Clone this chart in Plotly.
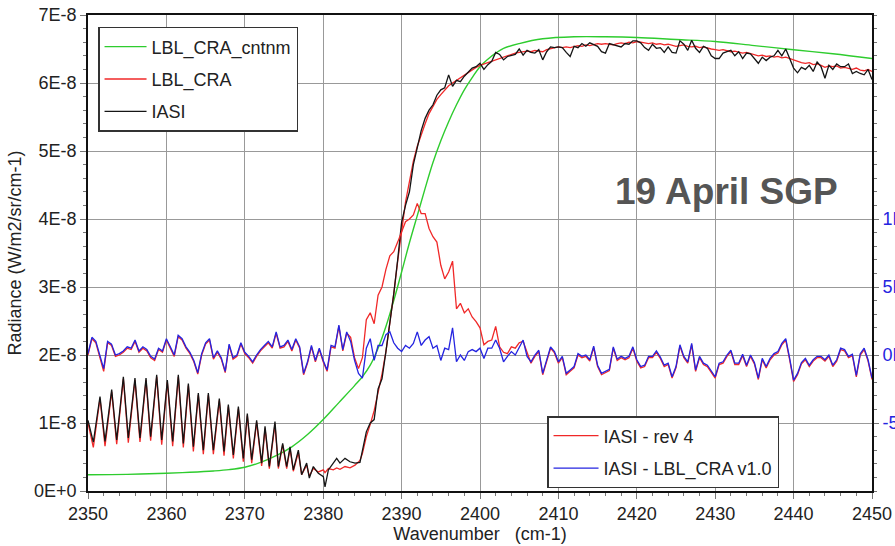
import numpy as np
import plotly.graph_objects as go

# ---------------- data ----------------
# spectrum wavenumbers: line extrema in the oscillating part, then 0.5 cm-1 samples
wn_osc = [2350.00, 2350.68, 2351.53, 2352.17, 2353.02, 2353.66, 2354.51, 2355.14, 2355.99, 2356.63,
          2357.40, 2357.99, 2358.76, 2359.40, 2360.12, 2360.80, 2361.52, 2362.16, 2362.80, 2363.44,
          2364.07, 2364.71, 2365.35, 2365.99, 2366.75, 2367.35, 2367.90, 2368.54, 2369.18, 2369.81,
          2370.32, 2370.88, 2371.51, 2372.15, 2372.58, 2373.13, 2373.85, 2374.28, 2374.83, 2375.34,
          2375.77, 2376.19, 2376.83, 2377.25, 2377.89, 2378.23, 2378.74, 2379.38, 2380.02, 2380.23,
          2380.66, 2381.29, 2381.72, 2382.14, 2382.78, 2383.42, 2384.06, 2384.69]
wn_reg = list(np.round(np.arange(2385.0, 2450.001, 0.5), 2))
wn_spec = wn_osc + wn_reg

# IASI radiance, units of 1E-8 W/m2/sr/cm-1
iasi_osc = [1.04, 0.72, 1.39, 0.73, 1.49, 0.75, 1.68, 0.78, 1.66, 0.78,
            1.66, 0.80, 1.71, 0.75, 1.63, 0.73, 1.71, 0.70, 1.58, 0.65,
            1.44, 0.60, 1.44, 0.60, 1.36, 0.58, 1.27, 0.53, 1.24, 0.48,
            1.14, 0.46, 1.04, 0.41, 0.95, 0.36, 1.02, 0.36, 0.70, 0.36,
            0.65, 0.31, 0.60, 0.24, 0.41, 0.19, 0.36, 0.26, 0.21, 0.06,
            0.31, 0.41, 0.48, 0.41, 0.48, 0.43, 0.41, 0.42]
iasi_trans = [0.60, 0.87, 1.00, 1.05, 1.50, 1.65, 2.05, 2.45, 2.90, 3.40,
              3.95, 4.20, 4.40, 4.80, 5.05, 5.30, 5.48, 5.60, 5.68, 5.82,
              5.90, 5.93, 6.12, 5.95, 6.04, 6.02, 6.10, 6.16, 6.22, 6.24,
              6.29, 6.20, 6.27, 6.32, 6.45, 6.42, 6.34, 6.39, 6.40, 6.42,
              6.50]
iasi_plat = [6.41, 6.48, 6.45, 6.44, 6.49, 6.34, 6.46, 6.53, 6.52, 6.53,
             6.52, 6.45, 6.39, 6.54, 6.52, 6.58, 6.54, 6.59, 6.57, 6.54,
             6.46, 6.44, 6.58, 6.56, 6.54, 6.53, 6.58, 6.57, 6.62, 6.62,
             6.59, 6.52, 6.48, 6.57, 6.51, 6.52, 6.45, 6.53, 6.45, 6.44,
             6.62, 6.57, 6.48, 6.63, 6.51, 6.45, 6.54, 6.51, 6.40, 6.36,
             6.36, 6.44, 6.46, 6.48, 6.40, 6.46, 6.36, 6.44, 6.43, 6.36,
             6.29, 6.38, 6.33, 6.38, 6.40, 6.48, 6.40, 6.50, 6.35, 6.22,
             6.15, 6.23, 6.20, 6.26, 6.17, 6.31, 6.24, 6.07, 6.26, 6.20,
             6.28, 6.24, 6.24, 6.28, 6.14, 6.17, 6.14, 6.12, 6.20, 6.05]

# LBL_CRA radiance, units of 1E-8
lbl_osc = [1.00, 0.64, 1.36, 0.66, 1.46, 0.69, 1.65, 0.71, 1.63, 0.72,
           1.63, 0.74, 1.68, 0.68, 1.60, 0.66, 1.68, 0.64, 1.55, 0.58,
           1.41, 0.54, 1.41, 0.54, 1.33, 0.52, 1.24, 0.48, 1.21, 0.43,
           1.11, 0.41, 1.01, 0.37, 0.92, 0.33, 0.98, 0.33, 0.68, 0.33,
           0.62, 0.29, 0.57, 0.24, 0.38, 0.22, 0.33, 0.28, 0.31, 0.27,
           0.33, 0.31, 0.34, 0.32, 0.36, 0.34, 0.38, 0.45]
lbl_trans = [0.55, 0.80, 0.98, 1.18, 1.45, 1.72, 2.05, 2.45, 2.90, 3.38,
             3.85, 4.25, 4.55, 4.85, 5.07, 5.25, 5.40, 5.55, 5.66, 5.76,
             5.83, 5.90, 5.96, 6.00, 6.04, 6.08, 6.12, 6.16, 6.20, 6.23,
             6.26, 6.28, 6.30, 6.33, 6.35, 6.37, 6.39, 6.41, 6.43, 6.44,
             6.45]
lbl_plat = [6.46, 6.47, 6.46, 6.48, 6.47, 6.46, 6.49, 6.50, 6.51, 6.53,
            6.52, 6.53, 6.52, 6.54, 6.55, 6.54, 6.56, 6.55, 6.57, 6.58,
            6.57, 6.58, 6.57, 6.56, 6.58, 6.59, 6.58, 6.60, 6.59, 6.61,
            6.60, 6.59, 6.58, 6.59, 6.57, 6.58, 6.56, 6.57, 6.55, 6.54,
            6.55, 6.56, 6.54, 6.53, 6.54, 6.52, 6.53, 6.51, 6.50, 6.49,
            6.48, 6.49, 6.47, 6.46, 6.47, 6.45, 6.44, 6.45, 6.43, 6.42,
            6.40, 6.41, 6.39, 6.40, 6.38, 6.39, 6.37, 6.38, 6.36, 6.34,
            6.31, 6.30, 6.29, 6.30, 6.27, 6.28, 6.26, 6.23, 6.25, 6.24,
            6.25, 6.22, 6.23, 6.21, 6.20, 6.22, 6.19, 6.18, 6.20, 6.17]

# LBL_CRA_cntnm (continuum-only), units of 1E-8
wn_cntnm = [2350, 2355, 2360, 2363, 2366, 2368, 2370, 2372, 2374, 2376, 2378, 2380, 2382, 2384,
            2385, 2386, 2387, 2388, 2389, 2390, 2391, 2392, 2393, 2394, 2395, 2396, 2397, 2398,
            2399, 2400, 2401, 2402, 2403, 2405, 2408, 2412, 2416, 2420, 2425, 2430, 2435, 2440,
            2445, 2450]
cntnm = [0.24, 0.245, 0.26, 0.275, 0.295, 0.315, 0.35, 0.42, 0.52, 0.65, 0.83, 1.05, 1.30, 1.55,
         1.68, 1.85, 2.10, 2.42, 2.80, 3.22, 3.65, 4.05, 4.45, 4.83, 5.15, 5.43, 5.68, 5.90,
         6.08, 6.24, 6.35, 6.44, 6.51, 6.58, 6.65, 6.68, 6.68, 6.67, 6.64, 6.61, 6.55, 6.49,
         6.43, 6.36]

# differences (right axis), 0.5 cm-1 samples, units of 1E-9
wn_diff = list(np.round(np.arange(2350.0, 2450.001, 0.5), 2))
diff_v10 = [0.1, 1.3, 1.0, 0.0, -1.0, 1.0, 0.8, 0.0, 0.1, 0.3,
            0.6, 0.5, 1.1, 0.3, 0.6, 0.4, -0.1, -0.3, 0.5, 0.3,
            1.2, 0.6, 0.0, 1.45, 1.2, 0.6, 0.2, -0.4, -1.3, 0.1,
            0.9, 1.2, -0.2, 0.3, -0.2, -1.2, 0.8, -0.2, 0.0, 0.9,
            0.2,
            -0.1, -0.5, 0.0, 0.4, 0.7, 1.0, 0.6, 1.7, 0.6, 0.7,
            1.1, 0.4, 1.2, 0.6, -1.35, -0.5, 0.7, -0.4, 0.5, -0.4,
            -1.1, 0.7, 0.6, 2.2, 0.4, 1.7, 1.0, -0.4, -1.35, -1.7,
            0.5, 1.2, -0.4, 0.7, 0.7, 1.5, 1.7, 0.9, 0.5,
            0.25, 0.7, 0.5, 0.85, 1.7, 0.7, 1.1, 1.35, 0.5, 0.7,
            -0.4, 0.5, 0.4, 2.0, -0.5, 0.0, -0.4, 0.25, 0.4, 0.25,
            0.5, -0.25, 0.5, 0.5, 1.1, 0.5, -0.5, -0.1, 0.25, 0.0,
            0.5,
            1.1, -0.1, -0.5, 0.0, 0.35, -1.35, -0.35, 0.6, 0.25, -0.5,
            -0.1, -1.35, -1.1, -0.85, 0.1, -0.1, 0.0, -0.35, 0.65, -0.75,
            -1.35, -1.2, -1.05, 0.6, -0.3, -0.1, -0.25, -0.1, 0.6, -0.35,
            -0.85, -0.75, -0.1, -0.1, 0.3, -0.15, -0.75, -0.6, -1.6, -0.85,
            0.75, -0.1, -0.5, 0.85, -1.1, -0.1, -0.6, -0.75, -1.2, -1.6,
            -0.6, -0.5, 0.0, 0.35, -0.6, -0.6, 0.05, -0.75, 0.0, -0.55,
            -1.7, -0.25, -0.85, -0.25, 0.1, 0.25, 0.85, 1.2, -0.25, -1.85,
            -1.35, -0.55, -0.25, -0.75, -0.35, -0.1, -0.1, -0.35, 0.0, -0.75,
            -0.35, 0.5, 0.4, -0.1, 0.05, -1.5, 0.1, 0.5, -0.35, -1.7]
diff_rev4 = [0.0, 1.2, 0.9, -0.1, -1.2, 0.9, 0.7, -0.1, 0.0, 0.2,
             0.5, 0.4, 1.0, 0.2, 0.5, 0.3, -0.2, -0.4, 0.4, 0.2,
             1.1, 0.5, -0.1, 1.35, 1.1, 0.5, 0.1, -0.5, -1.4, 0.0,
             0.8, 1.1, -0.3, 0.2, -0.3, -1.3, 0.7, -0.3, -0.1, 0.8,
             0.1,
             -0.2, -0.6, -0.1, 0.3, 0.6, 0.9, 0.5, 1.6, 0.5, 0.6,
             1.0, 0.3, 1.1, 0.5, -1.45, -0.6, 0.6, -0.5, 0.4, -0.5,
             -1.2, 0.6, 0.5, 2.1, 0.3, 1.6, 1.3,
             -0.2, -1.0, -0.2, 2.6, 3.1, 2.3, 4.4, 5.0, 6.3, 7.3,
             7.6, 8.3, 9.1, 9.8, 10.0, 10.3, 11.15, 10.4, 10.4, 9.3,
             8.7, 8.3, 6.6, 5.6, 6.1, 6.9, 3.4, 3.8, 3.1, 3.4,
             2.8, 2.45, 2.0, 0.75, 1.0, 1.1, 2.1, 0.6, 0.2, 0.1,
             0.6, 0.5,
             0.9, 1.0, 0.2,
             -0.6, -0.1, 0.25, -1.45, -0.45, 0.5, 0.15, -0.6, -0.2, -1.45,
             -1.2, -0.95, 0.0, -0.2, -0.1, -0.45, 0.55, -0.85, -1.45, -1.3,
             -1.15, 0.5, -0.4, -0.2, -0.35, -0.2, 0.5, -0.45, -0.95, -0.85,
             -0.2, -0.2, 0.2, -0.25, -0.85, -0.7, -1.7, -0.95, 0.65, -0.2,
             -0.6, 0.75, -1.2, -0.2, -0.7, -0.85, -1.3, -1.7, -0.7, -0.6,
             -0.1, 0.25, -0.7, -0.7, -0.05, -0.85, -0.1, -0.65, -1.8, -0.35,
             -0.95, -0.35, 0.0, 0.15, 0.75, 1.1, -0.35, -1.95, -1.45, -0.65,
             -0.35, -0.85, -0.45, -0.2, -0.2, -0.45, -0.1, -0.85, -0.45, 0.4,
             0.3, -0.2, -0.05, -1.6, 0.0, 0.4, -0.45, -1.8]

iasi = iasi_osc + iasi_trans + iasi_plat
lbl = lbl_osc + lbl_trans + lbl_plat
assert len(iasi) == len(wn_spec) == len(lbl), (len(iasi), len(lbl), len(wn_spec))
assert len(diff_v10) == len(wn_diff) == len(diff_rev4), (len(diff_v10), len(diff_rev4), len(wn_diff))

x_ticks = [2350, 2360, 2370, 2380, 2390, 2400, 2410, 2420, 2430, 2440, 2450]
y_ticks = [0, 1, 2, 3, 4, 5, 6, 7]
y_tick_text = ["0E+0", "1E-8", "2E-8", "3E-8", "4E-8", "5E-8", "6E-8", "7E-8"]
y2_ticks = [-5, 0, 5, 10]
y2_tick_text = ["-5E-9", "0E+0", "5E-9", "1E-8"]

# ---------------- figure ----------------
FONT = "Liberation Sans, Arial, Helvetica, sans-serif"
GREEN = "#2ecc2e"
RED = "#f02828"
BLACK = "#151515"
BLUE = "#2424e0"

e8 = lambda a: [v * 1e-8 for v in a]
e9 = lambda a: [v * 1e-9 for v in a]

fig = go.Figure()
fig.add_trace(go.Scatter(x=wn_diff, y=e9(diff_rev4), mode="lines", name="IASI - rev 4",
                         line=dict(color=RED, width=1.3), yaxis="y2", legend="legend2",
                         legendgroup="h1"))
fig.add_trace(go.Scatter(x=wn_diff, y=e9(diff_v10), mode="lines", name="IASI - LBL_CRA v1.0",
                         line=dict(color=BLUE, width=1.3), yaxis="y2", legend="legend2",
                         legendgroup="h2"))
fig.add_trace(go.Scatter(x=wn_cntnm, y=e8(cntnm), mode="lines", name="LBL_CRA_cntnm",
                         line=dict(color=GREEN, width=1.4, shape="spline"), legendgroup="g1"))
fig.add_trace(go.Scatter(x=wn_spec, y=e8(lbl), mode="lines", name="LBL_CRA",
                         line=dict(color=RED, width=1.3), legendgroup="g2"))
fig.add_trace(go.Scatter(x=wn_spec, y=e8(iasi), mode="lines", name="IASI",
                         line=dict(color=BLACK, width=1.3), legendgroup="g3"))

tickfont = dict(family=FONT, size=18, color="#222")
fig.update_layout(
    width=895, height=546,
    margin=dict(l=88, r=23, t=15, b=55, autoexpand=False),
    paper_bgcolor="white", plot_bgcolor="white",
    font=dict(family=FONT, size=18, color="#222"),
    xaxis=dict(range=[2350, 2450], tickvals=x_ticks, ticks="outside", ticklen=6,
               tickcolor="#777", showgrid=True, gridcolor="#999", gridwidth=1,
               showline=True, linecolor="#111", linewidth=1.6, mirror=True,
               zeroline=False, tickfont=tickfont, automargin=False,
               minor=dict(dtick=2, ticks="outside", ticklen=3, tickcolor="#777", showgrid=False),
               title=dict(text="Wavenumber\u00a0\u00a0\u00a0(cm-1)", font=dict(family=FONT, size=18, color="#222"),
                          standoff=4)),
    yaxis=dict(range=[0, 7e-8], tickvals=[v * 1e-8 for v in y_ticks], ticktext=y_tick_text,
               ticks="outside", ticklen=6, tickcolor="#777", showgrid=True, gridcolor="#999",
               gridwidth=1, showline=True, linecolor="#111", linewidth=1.6, mirror=True,
               zeroline=False, tickfont=tickfont, automargin=False,
               minor=dict(dtick=0.2e-8, ticks="outside", ticklen=3, tickcolor="#777", showgrid=False),
               title=dict(text="Radiance (W/m2/sr/cm-1)", font=dict(family=FONT, size=18, color="#222"),
                          standoff=8)),
    yaxis2=dict(range=[-1e-8, 2.5e-8], overlaying="y", side="right",
                tickvals=[v * 1e-9 for v in y2_ticks], ticktext=y2_tick_text,
                ticks="outside", ticklen=5, tickcolor="#777", showgrid=False, zeroline=False,
                showline=True, linecolor="#111", linewidth=1.6, automargin=False,
                tickfont=dict(family=FONT, size=18, color="#2424e0"),
                minor=dict(dtick=1e-9, ticks="outside", ticklen=3, tickcolor="#777", showgrid=False)),
    legend=dict(x=0.0128, y=0.975, xanchor="left", yanchor="top", bgcolor="white",
                bordercolor="#333", borderwidth=1.5, traceorder="grouped", tracegroupgap=6,
                itemwidth=42,
                font=dict(family=FONT, size=18, color="#222")),
    legend2=dict(x=0.5855, y=0.0063, xanchor="left", yanchor="bottom", bgcolor="white",
                 bordercolor="#333", borderwidth=1.5, traceorder="grouped", tracegroupgap=6,
                 itemwidth=45,
                 font=dict(family=FONT, size=18, color="#222")),
    showlegend=True,
    annotations=[dict(text="<b>19 April SGP</b>", x=0.8138, y=0.63, xref="paper", yref="paper",
                      xanchor="center", yanchor="middle", showarrow=False,
                      font=dict(family=FONT, size=37, color="#555"))],
)

fig.write_html("out.html", config={"displayModeBar": False},
               post_script="document.body.style.margin='0';document.body.style.overflow='hidden';")
